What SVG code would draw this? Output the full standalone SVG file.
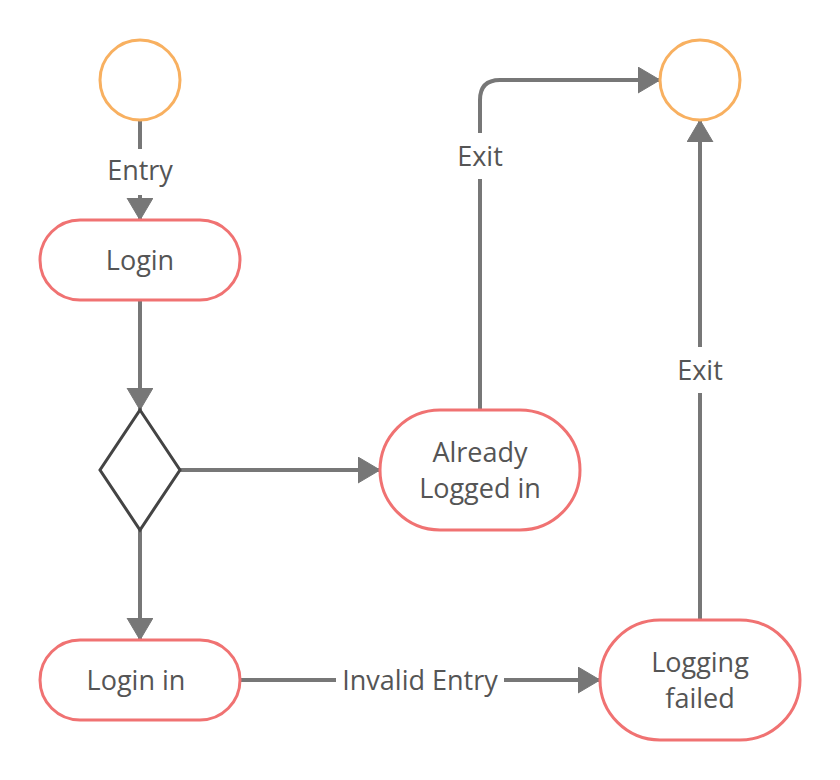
<svg xmlns="http://www.w3.org/2000/svg" width="840" height="780" viewBox="0 0 840 780">
<style>
.term{fill:#fff;stroke:#F8B060;stroke-width:3}
.state{fill:#fff;stroke:#F07272;stroke-width:3}
.dec{fill:#fff;stroke:#444;stroke-width:3;stroke-linejoin:miter}
.conn{fill:none;stroke:#777;stroke-width:4}
.lbl{font-family:"Open Sans","Noto Sans",sans-serif;font-size:27px;fill:#555;text-anchor:middle}
.bg{fill:#fff}
</style>
<defs>
<marker id="arr" markerUnits="userSpaceOnUse" markerWidth="24" markerHeight="28" refX="22" refY="13" orient="auto">
<path d="M0,0 L22,13 L0,26 Z" fill="#777" stroke="#777" stroke-width="1" stroke-linejoin="round"/>
</marker>
</defs>
<rect width="840" height="780" fill="#fff"/>
<g id="connectors">
<path class="conn" d="M140,120 V220" marker-end="url(#arr)"/>
<path class="conn" d="M140,300 V410" marker-end="url(#arr)"/>
<path class="conn" d="M180,470 H380" marker-end="url(#arr)"/>
<path class="conn" d="M140,530 V640" marker-end="url(#arr)"/>
<path class="conn" d="M240,680 H600" marker-end="url(#arr)"/>
<path class="conn" d="M480,410 V100 Q480,80 500,80 H660" marker-end="url(#arr)"/>
<path class="conn" d="M700,620 V120" marker-end="url(#arr)"/>
<rect class="bg" x="106" y="149" width="68" height="46"/>
<text class="lbl" x="140" y="180">Entry</text>
<rect class="bg" x="336" y="660" width="168" height="40"/>
<text class="lbl" x="420" y="690">Invalid Entry</text>
<rect class="bg" x="450" y="133" width="60" height="46"/>
<text class="lbl" x="480" y="166">Exit</text>
<rect class="bg" x="670" y="347" width="60" height="46"/>
<text class="lbl" x="700" y="380">Exit</text>
</g>
<g id="start"><circle class="term" cx="140" cy="80" r="40"/></g>
<g id="end"><circle class="term" cx="700" cy="80" r="40"/></g>
<g id="login"><rect class="state" x="40" y="220" width="200" height="80" rx="40"/><text class="lbl" x="140" y="270">Login</text></g>
<g id="decision"><path class="dec" d="M140,410 L180,470 L140,530 L100,470 Z"/></g>
<g id="already"><rect class="state" x="380" y="410" width="200" height="120" rx="60"/><text class="lbl" x="480" y="462">Already</text><text class="lbl" x="480" y="498">Logged in</text></g>
<g id="loginin"><rect class="state" x="40" y="640" width="200" height="80" rx="40"/><text class="lbl" x="136" y="690">Login in</text></g>
<g id="failed"><rect class="state" x="600" y="620" width="200" height="120" rx="60"/><text class="lbl" x="700" y="672">Logging</text><text class="lbl" x="700" y="708">failed</text></g>
</svg>
